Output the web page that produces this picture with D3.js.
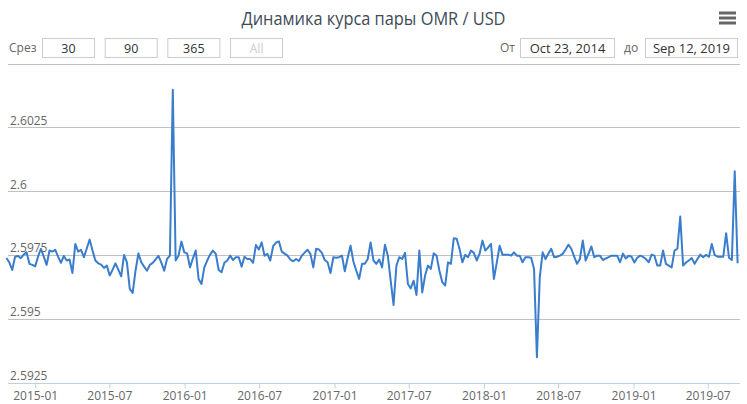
<!DOCTYPE html>
<html><head><meta charset="utf-8">
<script src="https://cdn.jsdelivr.net/npm/d3@7/dist/d3.min.js"></script>
<style>
body{margin:0;background:#fff;}
svg{display:block;font-family:"Open Sans",sans-serif;}
</style>
</head><body>
<svg id="c" width="747" height="404"></svg>
<script>
// ---------- data ----------
const chartTitle = "Динамика курса пары OMR / USD";
const startDate = "2014-10-23";          // first weekly observation
const endDate = "2019-09-12";            // last weekly observation
const rates = [
2.59738,2.59720,2.59691,2.59743,2.59746,2.59737,2.59751,2.59760,2.59715,2.59711,
2.59705,2.59743,2.59774,2.59743,2.59711,2.59767,2.59763,2.59770,2.59743,2.59719,
2.59746,2.59728,2.59732,2.59679,2.59793,2.59763,2.59770,2.59741,2.59775,2.59810,
2.59767,2.59728,2.59717,2.59712,2.59699,2.59708,2.59669,2.59692,2.59717,2.59692,
2.59666,2.59750,2.59721,2.59617,2.59601,2.59688,2.59756,2.59721,2.59704,2.59688,
2.59711,2.59719,2.59732,2.59746,2.59720,2.59688,2.59734,2.59747,2.60397,2.59728,
2.59747,2.59802,2.59760,2.59756,2.59701,2.59736,2.59767,2.59656,2.59636,2.59701,
2.59728,2.59751,2.59767,2.59754,2.59691,2.59682,2.59719,2.59728,2.59747,2.59730,
2.59741,2.59741,2.59704,2.59743,2.59734,2.59734,2.59719,2.59789,2.59771,2.59799,
2.59747,2.59754,2.59728,2.59784,2.59798,2.59803,2.59763,2.59755,2.59747,2.59732,
2.59725,2.59734,2.59726,2.59747,2.59759,2.59770,2.59754,2.59701,2.59774,2.59771,
2.59758,2.59730,2.59721,2.59679,2.59741,2.59739,2.59741,2.59747,2.59686,2.59739,
2.59786,2.59724,2.59688,2.59656,2.59715,2.59715,2.59734,2.59799,2.59728,2.59715,
2.59732,2.59701,2.59790,2.59747,2.59649,2.59554,2.59708,2.59741,2.59734,2.59758,
2.59636,2.59619,2.59649,2.59593,2.59767,2.59603,2.59669,2.59708,2.59695,2.59756,
2.59747,2.59688,2.59643,2.59630,2.59721,2.59715,2.59815,2.59813,2.59774,2.59721,
2.59750,2.59741,2.59767,2.59758,2.59728,2.59754,2.59806,2.59767,2.59779,2.59793,
2.59656,2.59720,2.59786,2.59751,2.59751,2.59751,2.59747,2.59760,2.59747,2.59747,
2.59721,2.59741,2.59741,2.59739,2.59695,2.59349,2.59662,2.59760,2.59734,2.59755,
2.59774,2.59741,2.59743,2.59747,2.59754,2.59771,2.59790,2.59774,2.59743,2.59715,
2.59734,2.59806,2.59728,2.59755,2.59783,2.59741,2.59747,2.59747,2.59730,2.59736,
2.59741,2.59747,2.59747,2.59747,2.59721,2.59755,2.59736,2.59747,2.59743,2.59720,
2.59739,2.59747,2.59743,2.59734,2.59721,2.59751,2.59747,2.59708,2.59708,2.59767,
2.59715,2.59708,2.59701,2.59767,2.59774,2.59900,2.59708,2.59720,2.59728,2.59738,
2.59715,2.59734,2.59751,2.59741,2.59750,2.59743,2.59793,2.59750,2.59743,2.59743,
2.59743,2.59835,2.59739,2.59730,2.60078,2.59717
];
const yTickValues = [2.5925, 2.595, 2.5975, 2.6, 2.6025, 2.605];
const yTickLabels = ["2.5925", "2.595", "2.5975", "2.6", "2.6025", ""];
const xTickLabels = ["2015-01","2015-07","2016-01","2016-07","2017-01","2017-07","2018-01","2018-07","2019-01","2019-07"];
const rangeLabel = "Срез";
const rangeButtons = ["30", "90", "365", "All"];
const fromLabel = "От", toLabel = "до";
const fromText = "Oct 23, 2014", toText = "Sep 12, 2019";

// ---------- build ----------
const parseDay = d3.utcParse("%Y-%m-%d");
const parseMonth = d3.utcParse("%Y-%m");
const t0 = parseDay(startDate);
const series = rates.map((v, i) => ({date: d3.utcDay.offset(t0, 7 * i), value: v}));

const svg = d3.select("#c");
const W = 747;
const plot = {left: 8, right: 740, top: 63.5, bottom: 382.5};

const x = d3.scaleUtc().domain([t0, parseDay(endDate)]).range([6.5, 737.6]);
const y = d3.scaleLinear().domain([2.5925, 2.605]).range([plot.bottom, plot.top]);

// title
svg.append("text").attr("x", W / 2).attr("y", 25).attr("text-anchor", "middle")
  .attr("font-size", 18).attr("fill", "#3e4b58")
  .attr("textLength", 264).attr("lengthAdjust", "spacingAndGlyphs")
  .text(chartTitle);

// menu icon
[13, 18, 23].forEach(yy => svg.append("rect").attr("x", 719).attr("y", yy - 1.5)
  .attr("width", 17).attr("height", 3).attr("fill", "#666"));

// range selector
svg.append("text").attr("x", 9).attr("y", 52).attr("font-size", 12).attr("fill", "#666")
  .text(rangeLabel);
const bx = d3.scaleBand().domain(rangeButtons).range([42, 282]).paddingInner(0.17);
const btn = svg.selectAll("g.btn").data(rangeButtons).join("g").attr("class", "btn")
  .attr("transform", d => `translate(${bx(d)},38)`);
btn.append("rect").attr("x", 0.5).attr("y", 0.5).attr("width", bx.bandwidth()).attr("height", 19)
  .attr("fill", "#fff").attr("stroke", "#cccccc");
btn.append("text").attr("x", bx.bandwidth() / 2 + 0.5).attr("y", 14.5).attr("text-anchor", "middle")
  .attr("font-size", 12.5).attr("fill", d => d === "All" ? "#cccccc" : "#333")
  .text(d => d);

// date inputs
function dateBox(label, lx, bx0, bw, txt) {
  svg.append("text").attr("x", lx).attr("y", 52).attr("font-size", 12).attr("fill", "#666").text(label);
  svg.append("rect").attr("x", bx0 + 0.5).attr("y", 38.5).attr("width", bw).attr("height", 19)
    .attr("fill", "#fff").attr("stroke", "#cccccc");
  svg.append("text").attr("x", bx0 + bw / 2 + 0.5).attr("y", 52.5).attr("text-anchor", "middle")
    .attr("font-size", 13).attr("fill", "#333").text(txt);
}
dateBox(fromLabel, 500, 520, 94, fromText);
dateBox(toLabel, 624, 645, 92, toText);

// grid lines
const grid = svg.append("g");
yTickValues.slice(1).forEach(v => {
  grid.append("line").attr("x1", plot.left).attr("x2", plot.right)
    .attr("y1", Math.round(y(v)) + 0.5).attr("y2", Math.round(y(v)) + 0.5)
    .attr("stroke", "#c0c0c0").attr("stroke-width", 1);
});
// y labels
yTickValues.forEach((v, i) => {
  if (!yTickLabels[i]) return;
  svg.append("text").attr("x", 10).attr("y", y(v) - 2.5).attr("font-size", 12)
    .attr("fill", "#666").text(yTickLabels[i]);
});

// x axis
const xAxis = d3.axisBottom(x)
  .tickValues(xTickLabels.map(parseMonth))
  .tickFormat(d3.utcFormat("%Y-%m"))
  .tickSize(5).tickSizeOuter(0).tickPadding(3);
const gx = svg.append("g").attr("transform", `translate(0,${Math.round(plot.bottom) + 0.5})`).call(xAxis);
gx.select(".domain").attr("d", `M${plot.left},0H${plot.right}`).attr("stroke", "#C0D0E0");
gx.selectAll(".tick line").attr("stroke", "#C0D0E0");
gx.selectAll(".tick text").attr("font-size", 12).attr("fill", "#666")
  .attr("font-family", "Open Sans, sans-serif");

// line
const line = d3.line().x(d => x(d.date)).y(d => y(d.value));
svg.append("path").datum(series).attr("d", line).attr("fill", "none")
  .attr("stroke", "#3a7dcc").attr("stroke-width", 2).attr("stroke-linejoin", "round");
</script>
</body></html>
